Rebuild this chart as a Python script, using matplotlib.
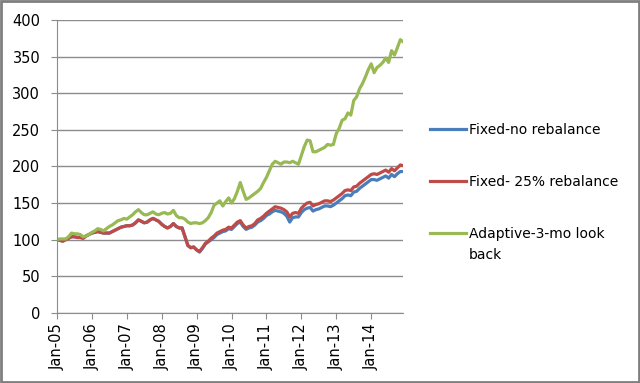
import matplotlib
matplotlib.use("Agg")
import matplotlib.pyplot as plt
from matplotlib.patches import Rectangle

# Monthly index values, Jan-05 .. Dec-14
fixed_no_rebal = [
    100, 99, 98, 100, 102, 104, 104, 103, 103, 102, 105, 107,
    109, 110, 111, 110, 109, 109, 109, 111, 113, 115, 117, 118,
    119, 119, 120, 123, 127, 125, 123, 124, 127, 129, 127, 125,
    121, 118, 116, 118, 122, 118, 116, 116, 104, 92, 89, 90,
    86, 83, 88, 94, 97, 100, 103, 107, 109, 111, 112, 115,
    114, 118, 122, 124, 118, 114, 116, 117, 120, 124, 126, 129,
    133, 135, 138, 140, 139, 138, 136, 132, 124, 130, 131, 131,
    137, 141, 143, 144, 139, 141, 142, 144, 146, 146, 145, 147,
    150, 153, 156, 160, 161, 160, 165, 166, 170, 173, 176, 179,
    182, 182, 181, 183, 185, 187, 184, 189, 186, 190, 193, 193,
]
fixed_25_rebal = [
    100, 99, 98, 100, 102, 104, 104, 103, 103, 102, 105, 107,
    109, 110, 111, 110, 109, 109, 109, 111, 113, 115, 117, 118,
    119, 119, 120, 123, 127, 125, 123, 124, 127, 129, 127, 125,
    121, 118, 116, 118, 122, 118, 116, 116, 104, 92, 89, 90,
    86, 84, 89, 95, 98, 102, 105, 109, 111, 113, 114, 117,
    116, 120, 124, 126, 120, 116, 118, 119, 122, 127, 129, 132,
    136, 139, 142, 145, 144, 143, 141, 138, 131, 136, 137, 136,
    143, 147, 150, 151, 146, 148, 149, 151, 153, 153, 152, 154,
    157, 160, 163, 167, 168, 167, 172, 173, 177, 180, 183, 186,
    189, 190, 189, 191, 193, 195, 192, 197, 194, 198, 202, 201,
]
adaptive_3mo = [
    100, 101, 101, 101, 104, 109, 108, 108, 107, 104, 105, 107,
    110, 112, 115, 114, 112, 115, 118, 120, 123, 126, 127, 129,
    128, 131, 134, 138, 141, 137, 134, 134, 136, 138, 135, 134,
    136, 137, 135, 136, 140, 133, 130, 130, 128, 124, 122, 123,
    123, 122, 123, 126, 130, 137, 147, 150, 153, 146, 152, 157,
    150, 156, 166, 178, 166, 155, 157, 160, 163, 166, 170, 178,
    185, 194, 203, 207, 205, 203, 206, 206, 205, 207, 205, 203,
    215, 227, 236, 235, 220, 220, 222, 224, 226, 230, 229, 230,
    245, 252, 263, 265, 273, 270, 290, 295, 306, 313, 322, 332,
    340, 328, 335, 338, 342, 348, 342, 358, 352, 362, 373, 370,
]
years = list(range(5, 15))
tick_labels = ["Jan-%02d" % y for y in years]

months = list(range(len(adaptive_3mo)))

fig = plt.figure(figsize=(6.4, 3.83), dpi=100)
ax = fig.add_axes([0.089, 0.183, 0.541, 0.765])

ax.plot(months, fixed_no_rebal, color="#4A7EBB", lw=2.3, label="Fixed-no rebalance")
ax.plot(months, fixed_25_rebal, color="#BE4B48", lw=2.3, label="Fixed- 25% rebalance")
ax.plot(months, adaptive_3mo, color="#98B954", lw=2.3, label="Adaptive-3-mo look")

ax.set_xlim(0, len(months) - 1)
ax.set_ylim(0, 400)
ax.set_yticks(range(0, 401, 50))
ax.set_xticks(range(0, len(months), 12))
ax.set_xticklabels(tick_labels, rotation=90)

ax.grid(axis="y", color="#8c8c8c", lw=1)
ax.set_axisbelow(True)
for s in ["top", "right"]:
    ax.spines[s].set_visible(False)
for s in ["left", "bottom"]:
    ax.spines[s].set_color("#8c8c8c")
ax.tick_params(axis="both", colors="#8c8c8c", labelcolor="black", labelsize=10.5, length=4)
ax.tick_params(axis="y", pad=8)

leg = fig.legend(loc="upper left", bbox_to_anchor=(0.652, 0.712), frameon=False,
                 fontsize=10, handlelength=2.6, handletextpad=0.2, labelspacing=2.75)

# second line of the last legend label, under its first line
fig.canvas.draw()
bb = leg.get_texts()[2].get_window_extent()
W, H = fig.bbox.width, fig.bbox.height
fig.text(bb.x0 / W, (bb.y0 - 7) / H, "back", ha="left", va="top", fontsize=10)

# outer chart border
fig.patches.append(Rectangle((0.002, 0.003), 0.996, 0.994, transform=fig.transFigure,
                             fill=False, edgecolor="#7f7f7f", lw=2))

fig.savefig("out.png", dpi=100)
